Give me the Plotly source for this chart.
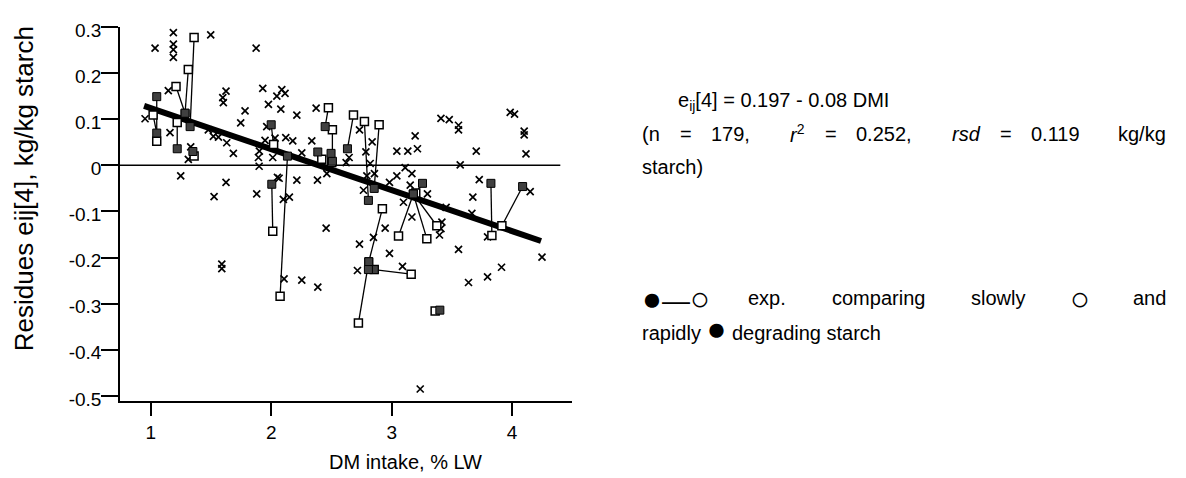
import plotly.graph_objects as go

# ---------------- data ----------------
cross_x = [0.953, 1.036, 1.188, 1.188, 1.188, 1.188, 1.498, 1.875, 1.146, 1.160, 1.249, 1.312,
           1.332, 1.598, 1.625, 1.603, 1.930, 1.977, 2.047, 2.088, 2.115, 2.080, 2.213, 2.373,
           1.783, 1.747, 1.478, 1.520, 1.562, 1.631, 1.686, 1.625, 1.526, 1.880, 1.902, 1.894,
           1.900, 1.949, 1.963, 2.013, 2.032, 2.052, 2.121, 2.179, 2.337, 2.254, 2.213, 2.384,
           2.462, 2.101, 2.151, 1.590, 1.590, 2.107, 2.254, 2.387, 2.456, 2.733, 2.838, 2.786,
           2.822, 2.857, 2.794, 2.766, 2.647, 2.622, 2.420, 2.982, 3.043, 3.112, 3.168, 3.043,
           3.134, 3.214, 3.195, 3.098, 3.168, 2.946, 2.849, 2.733, 2.982, 2.716, 3.090, 3.638,
           3.796, 3.912, 3.237, 3.409, 3.478, 3.555, 3.555, 3.702, 3.984, 4.020, 4.100, 4.100,
           4.115, 3.569, 3.727, 3.154, 3.297, 3.452, 3.674, 3.666, 4.150, 3.417, 3.409, 3.397,
           3.555, 3.796, 4.248, 2.066]
cross_y = [0.101, 0.254, 0.288, 0.263, 0.251, 0.234, 0.283, 0.254, 0.162, 0.071, -0.023, 0.013,
           0.040, 0.147, 0.161, 0.136, 0.167, 0.132, 0.150, 0.164, 0.156, 0.122, 0.109, 0.124,
           0.118, 0.092, 0.077, 0.063, 0.061, 0.049, 0.026, -0.037, -0.068, -0.062, 0.031, 0.017,
           -0.002, 0.054, 0.084, 0.017, 0.059, -0.026, 0.060, 0.053, 0.053, 0.027, -0.032, -0.032,
           -0.018, -0.074, -0.069, -0.214, -0.224, -0.246, -0.249, -0.264, -0.136, 0.077, 0.051, 0.029,
           0.004, -0.018, -0.023, -0.054, 0.017, 0.006, 0.009, -0.037, -0.023, -0.005, -0.018, 0.031,
           0.031, 0.036, 0.064, -0.080, -0.112, -0.136, -0.156, -0.171, -0.191, -0.228, -0.219, -0.254,
           -0.242, -0.221, -0.485, 0.102, 0.099, 0.087, 0.077, 0.031, 0.115, 0.111, 0.074, 0.066,
           0.025, 0.001, -0.031, -0.043, -0.062, -0.091, -0.069, -0.104, -0.057, -0.123, -0.137, -0.151,
           -0.182, -0.155, -0.199, -0.028]

# paired experiments: rapidly degrading (filled) vs slowly degrading (open)
rapid_x = [1.05, 1.05, 1.285, 1.285, 1.327, 1.22, 1.35, 2.00, 2.005, 2.135, 2.448, 2.508,
           2.633, 2.807, 2.855, 2.387, 2.497, 2.81, 2.81, 2.855, 3.18, 3.18, 3.18, 3.256,
           3.824, 4.087, 3.40, 2.807]
rapid_y = [0.149, 0.070, 0.113, 0.113, 0.084, 0.036, 0.030, 0.088, -0.041, 0.020, 0.084, 0.009,
           0.036, -0.076, -0.050, 0.029, 0.026, -0.209, -0.209, -0.226, -0.062, -0.062, -0.062, -0.039,
           -0.039, -0.046, -0.314, -0.226]
slow_x = [1.05, 1.02, 1.21, 1.312, 1.36, 1.22, 1.36, 2.02, 2.013, 2.074, 2.475, 2.508,
          2.683, 2.774, 2.896, 2.42, 2.503, 2.923, 2.724, 3.162, 3.057, 3.292, 3.375, 3.20,
          3.832, 3.915, 3.361, 2.855]
slow_y = [0.052, 0.109, 0.171, 0.208, 0.277, 0.093, 0.020, 0.045, -0.143, -0.284, 0.125, 0.077,
          0.109, 0.095, 0.088, 0.013, 0.006, -0.094, -0.342, -0.236, -0.153, -0.159, -0.131, -0.060,
          -0.152, -0.131, -0.316, -0.226]

# regression line drawn in the figure
reg_x = [0.945, 4.24]
reg_y = [0.129, -0.164]

x_ticks = [1, 2, 3, 4]
y_ticks = [0.3, 0.2, 0.1, 0, -0.1, -0.2, -0.3, -0.4, -0.5]
y_tick_text = ["0.3", "0.2", "0.1", "0", "-0.1", "-0.2", "-0.3", "-0.4", "-0.5"]

# ---------------- figure ----------------
OFF = 8                      # page body margin of the browser
W, H = 1178, 470
L, R, T, B = 112, 614, 15, 77
X_RANGE = [0.745, 4.497]
Y_RANGE = [-0.511, 0.3]
FONT = "Liberation Sans, Arial, sans-serif"

def px(sx):
    return (sx - OFF - L) / (W - L - R)

def py(sy):
    return (H - B - (sy - OFF)) / (H - T - B)

fig = go.Figure()

# connecting segments between paired experiments
seg_x, seg_y = [], []
for fx, fy, ox, oy in zip(rapid_x, rapid_y, slow_x, slow_y):
    seg_x += [fx, ox, None]
    seg_y += [fy, oy, None]
fig.add_trace(go.Scatter(x=seg_x, y=seg_y, mode="lines",
                         line=dict(color="black", width=1.3), hoverinfo="skip"))

# crosses (single experiments)
fig.add_trace(go.Scatter(x=cross_x, y=cross_y, mode="markers",
                         marker=dict(symbol="x-thin", size=7,
                                     line=dict(color="black", width=1.7))))

# regression line
fig.add_trace(go.Scatter(x=reg_x, y=reg_y, mode="lines",
                         line=dict(color="black", width=6)))

# slow (open) markers
fig.add_trace(go.Scatter(x=slow_x, y=slow_y, mode="markers",
                         marker=dict(symbol="square", size=8, color="white",
                                     line=dict(color="black", width=1.5))))
# rapid (filled) markers
fig.add_trace(go.Scatter(x=rapid_x, y=rapid_y, mode="markers",
                         marker=dict(symbol="square", size=8, color="#404040",
                                     line=dict(color="black", width=1))))

# zero line
fig.add_shape(type="line", xref="x", yref="y", x0=X_RANGE[0], x1=4.40, y0=0, y1=0,
              line=dict(color="black", width=1.5), layer="below")

fig.update_layout(
    width=W, height=H,
    margin=dict(l=L, r=R, t=T, b=B, pad=0),
    plot_bgcolor="white", paper_bgcolor="white",
    showlegend=False,
    font=dict(family=FONT, color="black", size=19),
    xaxis=dict(range=X_RANGE, showgrid=False, zeroline=False, showline=True,
               linecolor="black", linewidth=1.5, ticks="outside", ticklen=13,
               tickwidth=1.5, tickcolor="black", tickvals=x_ticks,
               tickfont=dict(size=19, family=FONT)),
    yaxis=dict(range=Y_RANGE, showgrid=False, zeroline=False, showline=True,
               linecolor="black", linewidth=1.5, ticks="outside", ticklen=17,
               tickwidth=1.5, tickcolor="black", tickvals=y_ticks, ticktext=y_tick_text,
               ticklabelstandoff=-4, ticklabelshift=3,
               tickfont=dict(size=19, family=FONT)),
)

ann = []
def add_text(text, sx, sy, size=20, anchor="left", angle=0):
    ann.append(dict(text=text, x=px(sx), y=py(sy), xref="paper", yref="paper",
                    xanchor=anchor, yanchor="middle", showarrow=False,
                    textangle=angle, font=dict(size=size, family=FONT, color="black")))

BIG = '<span style="font-size:33px">%s</span>'
DASH = '<span style="font-size:28px">—</span>'

# axis titles
add_text("Residues eij[4], kg/kg starch", 24, 187, size=26, anchor="center", angle=-90)
add_text("DM intake, % LW", 405, 463, size=20, anchor="center")

# equation block (justified paragraph between x=640 and x=1168)
add_text("e<sub>ij</sub>[4] = 0.197 - 0.08 DMI", 676, 98)
line2 = [("(n", 640), ("=", 678), ("179,", 709), ("<i>r</i><sup>2</sup>", 788), ("=", 823),
         ("0.252,", 854), ("<i>rsd</i>", 950), ("=", 998), ("0.119", 1029)]
for t, sx in line2:
    add_text(t, sx, 131)
add_text("kg/kg", 1168, 131, anchor="right")
add_text("starch)", 640, 165)

line4 = [(BIG % "●" + DASH + BIG % "○", 640), ("exp.", 746), ("comparing", 830), ("slowly", 969),
         (BIG % "○", 1068)]
for t, sx in line4:
    add_text(t, sx, 297)
add_text("and", 1168, 297, anchor="right")
add_text("rapidly " + BIG % "●" + " degrading starch", 640, 328)

fig.update_layout(annotations=ann)
fig.write_html("out.html")
